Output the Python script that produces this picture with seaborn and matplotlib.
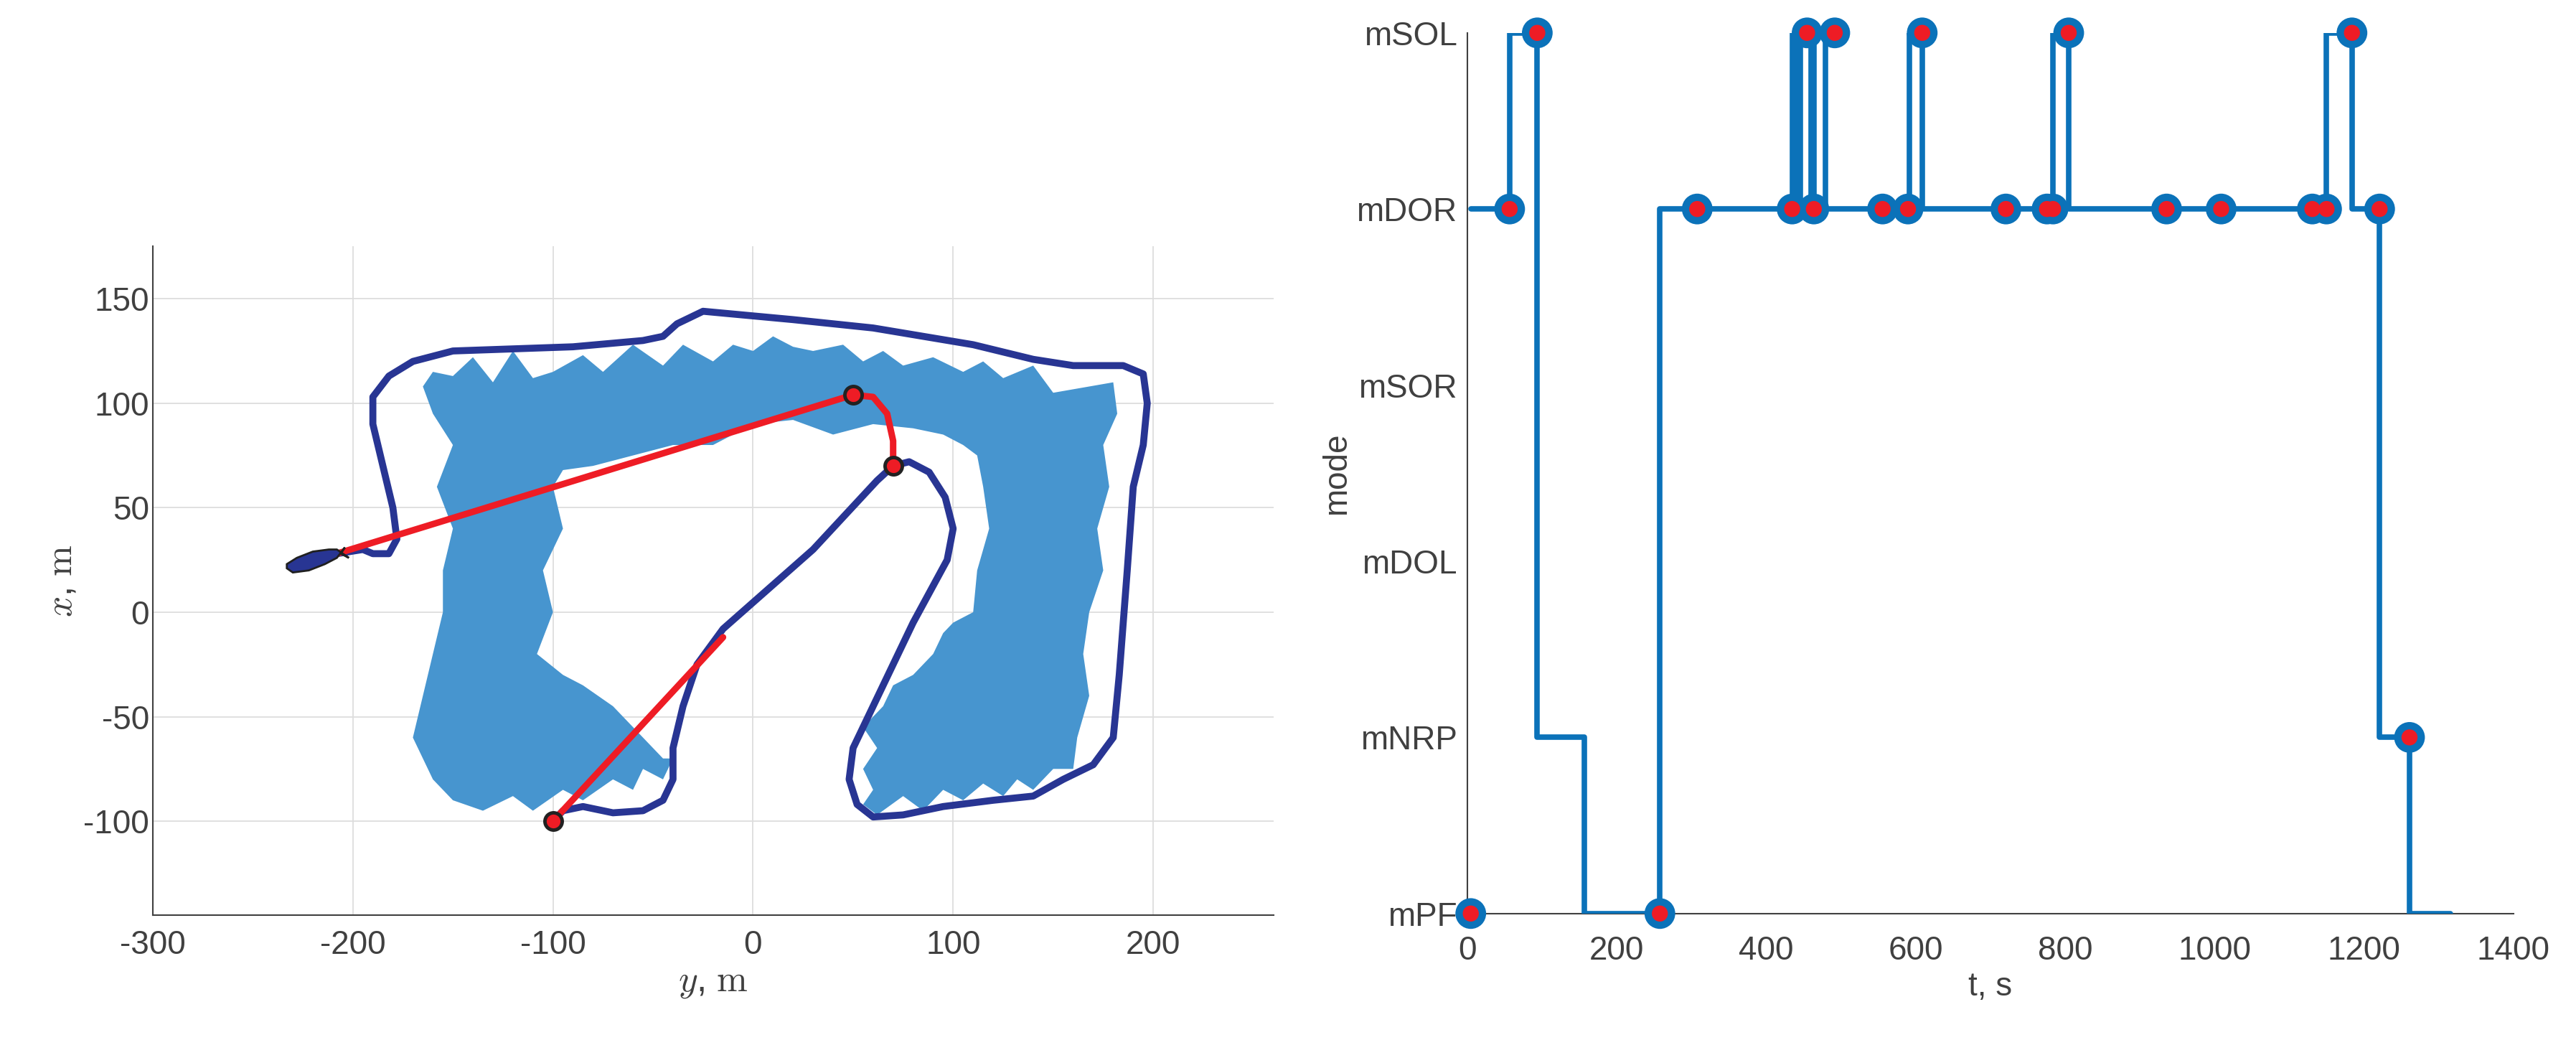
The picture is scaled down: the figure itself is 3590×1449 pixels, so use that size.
import numpy as np
import pandas as pd
import matplotlib
matplotlib.use("Agg")
import matplotlib.pyplot as plt
import seaborn as sns

sns.set_theme(style="white")
plt.rcParams['font.family'] = ['Liberation Sans', 'DejaVu Sans']
plt.rcParams['mathtext.fontset'] = 'cm'
plt.rcParams['axes.unicode_minus'] = False

# ---------------- data: left panel (horizontal = y, vertical = x) ----------------
region_y = [-165,-160,-150,-140,-130,-120,-110,-100,-85,-75,-60,-45,-35,-20,-10,0,10,20,30,45,55,65,75,90,105,115,125,140,150,180,
            182,175,178,172,175,168,165,168,162,160,
            150,140,132,125,115,105,95,85,75,62,55,
            60,55,62,55,65,70,80,90,95,100,110,112,118,115,112,105,95,
            80,60,40,20,0,-20,-40,-60,-80,-95,
            -100,-95,-105,-100,-108,-95,-85,-70,-55,-45,
            -40,-45,-55,-60,-70,-85,-95,-110,-120,-135,-150,-160,-170,-165,-160,-155,-155,-150,-158,-150,-160]
region_x = [108,115,113,122,110,125,112,115,123,115,128,118,128,120,128,125,132,127,125,128,120,125,118,122,115,120,112,118,105,110,
            95,80,60,40,20,0,-20,-40,-60,-75,
            -75,-85,-80,-88,-82,-90,-85,-95,-88,-97,-92,
            -85,-75,-65,-55,-45,-35,-30,-20,-10,-5,0,20,40,60,75,80,85,
            88,90,85,92,90,80,80,75,70,68,
            60,40,20,0,-20,-30,-35,-45,-60,-70,
            -70,-80,-75,-85,-80,-90,-85,-95,-88,-95,-90,-80,-60,-40,-20,0,20,40,60,80,95]

path_y = [-100,-95,-85,-70,-55,-45,-40,-40,-35,-28,-15,30,62,70,78,88,96,100,97,80,60,50,48,52,60,75,95,120,140,155,170,180,183,187,190,195,197,195,185,160,140,110,60,20,-25,-38,-45,-55,-90,-150,-170,-182,-190,-190,-185,-180,-178,-182,-190,-195,-208]
path_x = [-100,-95,-93,-96,-95,-90,-80,-65,-45,-25,-8,30,63,70,72,67,55,40,25,-5,-45,-65,-80,-92,-98,-97,-93,-90,-88,-80,-73,-60,-30,20,60,80,100,114,118,118,121,128,136,140,144,138,132,130,127,125,120,113,103,90,70,50,35,28,28,30,28]

red1_y = [-208, 50, 60, 67, 70, 70]
red1_x = [28, 104, 103, 95, 82, 70]
red2_y = [-100, -15]
red2_x = [-100, -12]

wp_y = [50, 70, -100]
wp_x = [104, 70, -100]

fish_y = [-233,-230,-222,-214,-208,-204,-206,-202,-208,-212,-220,-228,-233]
fish_x = [21,19,20,23,26,31,28,26,30,30,29,26,23]

# ---------------- data: right panel ----------------
mode_labels = ['mPF', 'mNRP', 'mDOL', 'mSOR', 'mDOR', 'mSOL']
step_t = [5, 57, 94, 157, 258, 435, 441, 446, 460, 464, 480, 492, 592, 609, 784, 805, 1150, 1184, 1221, 1261, 1316]
step_m = [4, 5, 1, 0, 4, 5, 4, 5, 4, 5, 4, 4, 5, 4, 5, 4, 5, 4, 1, 0, 0]
mark_t = [5, 258, 57, 308, 435, 464, 556, 590, 721, 776, 784, 936, 1009, 1131, 1150, 1221, 94, 455, 492, 609, 805, 1184, 1261]
mark_m = [0, 0, 4, 4, 4, 4, 4, 4, 4, 4, 4, 4, 4, 4, 4, 4, 5, 5, 5, 5, 5, 5, 1]

# ---------------- figure ----------------
fig = plt.figure(figsize=(35.9, 14.49), dpi=100)
axL = fig.add_axes([0.0593, 0.120, 0.435, 0.643])
axR = fig.add_axes([0.5695, 0.1216, 0.4062, 0.8468])

grey = '#404040'
fs = 33

# left
axL.fill(region_y, region_x, color='#4795cf', lw=0, zorder=1)
sns.lineplot(x=path_y, y=path_x, sort=False, estimator=None, ax=axL, color='#283593', lw=7, zorder=3)
sns.lineplot(x=red1_y, y=red1_x, sort=False, estimator=None, ax=axL, color='#ee1c25', lw=6.5, zorder=4)
sns.lineplot(x=red2_y, y=red2_x, sort=False, estimator=None, ax=axL, color='#ee1c25', lw=6.5, zorder=4)
axL.fill(fish_y, fish_x, color='#283593', ec='#202020', lw=2, zorder=5)
sns.scatterplot(x=wp_y, y=wp_x, ax=axL, s=300, color='#ee1c25', edgecolor='#222222', linewidth=3.5, zorder=6)
axL.set_xlim(-300, 260)
axL.set_ylim(-145, 175)
axL.set_xticks(range(-300, 201, 100))
axL.set_yticks(range(-100, 151, 50))
axL.grid(True, color='#dddddd', lw=1.3)
axL.set_axisbelow(True)
for s in ['top', 'right']:
    axL.spines[s].set_visible(False)
for s in ['left', 'bottom']:
    axL.spines[s].set_color(grey); axL.spines[s].set_linewidth(1.5)
axL.tick_params(labelsize=fs, colors=grey, direction='in', length=8, width=1.5)
axL.tick_params(axis='x', pad=14)
axL.set_xlabel(r'$y$, $\mathrm{m}$', fontsize=fs + 4, color=grey)
axL.set_ylabel(r'$x$, $\mathrm{m}$', fontsize=fs + 4, color=grey)

# right
sns.lineplot(x=step_t, y=step_m, sort=False, estimator=None, ax=axR, color='#0b72b9', lw=5.5, drawstyle='steps-post', zorder=3)
sns.scatterplot(x=mark_t, y=mark_m, ax=axR, s=950, color='#0b72b9', edgecolor='none', zorder=4, clip_on=False)
sns.scatterplot(x=mark_t, y=mark_m, ax=axR, s=260, color='#ee1c25', edgecolor='none', zorder=5, clip_on=False)
axR.set_xlim(0, 1400)
axR.set_ylim(0, 5)
axR.set_xticks(range(0, 1401, 200))
axR.set_yticks(range(6))
axR.set_yticklabels(mode_labels)
for s in ['top', 'right']:
    axR.spines[s].set_visible(False)
for s in ['left', 'bottom']:
    axR.spines[s].set_color(grey); axR.spines[s].set_linewidth(1.5)
axR.tick_params(labelsize=fs, colors=grey, direction='in', length=8, width=1.5)
axR.tick_params(axis='x', pad=22)
axR.tick_params(axis='y', pad=10)
axR.set_xlabel('t, s', fontsize=fs, color=grey)
axR.set_ylabel('mode', fontsize=fs, color=grey)

fig.savefig('out.png', dpi=100, facecolor='white')
